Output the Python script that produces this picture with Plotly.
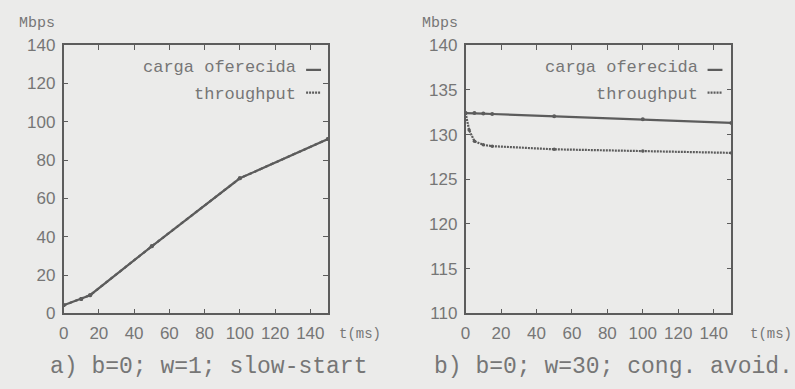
import plotly.graph_objects as go

# ---- data ----
t_a = [0, 10, 15, 50, 100, 150]
carga_a = [4.2, 7.5, 9.5, 35.0, 70.5, 91.0]
thr_a = [4.2, 7.5, 9.5, 35.0, 70.5, 91.0]

t_b = [0, 5, 10, 15, 50, 100, 150]
carga_b = [132.4, 132.4, 132.35, 132.3, 132.05, 131.7, 131.3]
t_b_thr = [0, 2, 5, 10, 15, 50, 100, 150]
thr_b = [132.4, 130.5, 129.25, 128.85, 128.7, 128.35, 128.15, 127.95]

xticks = [0, 20, 40, 60, 80, 100, 120, 140]
yticks_a = [0, 20, 40, 60, 80, 100, 120, 140]
yticks_b = [110, 115, 120, 125, 130, 135, 140]

legend_labels = ["carga oferecida", "throughput"]
captions = ["a) b=0; w=1; slow-start", "b) b=0; w=30; cong. avoid."]

# ---- style ----
W, H = 795, 389
BG = "#ebebea"
LINE = "#5c5c5c"
TXT = "#767676"
MONO = "Liberation Mono, Courier New, monospace"
SANS = "Liberation Sans, Arial, sans-serif"

def px(x):
    return x / W

def py(y):
    return (H - y) / H

fig = go.Figure()

fig.add_trace(go.Scatter(x=t_a, y=carga_a, mode="lines+markers", xaxis="x", yaxis="y",
                         line=dict(color=LINE, width=2.2), marker=dict(size=4, color=LINE),
                         showlegend=False, name=legend_labels[0]))
fig.add_trace(go.Scatter(x=t_a, y=thr_a, mode="lines+markers", xaxis="x", yaxis="y",
                         line=dict(color=LINE, width=2.2, dash="dot"), marker=dict(size=4, color=LINE),
                         showlegend=False, name=legend_labels[1]))
fig.add_trace(go.Scatter(x=t_b, y=carga_b, mode="lines+markers", xaxis="x2", yaxis="y2",
                         line=dict(color=LINE, width=2.2), marker=dict(size=4, color=LINE),
                         showlegend=False, name=legend_labels[0]))
fig.add_trace(go.Scatter(x=t_b_thr, y=thr_b, mode="lines+markers", xaxis="x2", yaxis="y2",
                         line=dict(color=LINE, width=2.2, dash="2px,1px"), marker=dict(size=3.5, color=LINE),
                         showlegend=False, name=legend_labels[1]))

ydom = [py(320), py(38)]
axis_common = dict(showline=True, linecolor=LINE, linewidth=1.6, mirror="allticks",
                   ticks="inside", ticklen=5, tickwidth=1.2, tickcolor=LINE,
                   showgrid=False, zeroline=False,
                   tickfont=dict(family=SANS, size=17, color=TXT))

fig.update_layout(
    width=W, height=H, autosize=False,
    margin=dict(l=0, r=0, t=0, b=0),
    paper_bgcolor=BG, plot_bgcolor=BG,
    xaxis=dict(domain=[px(59), px(325)], range=[0, 150], tickvals=xticks,
               anchor="y", ticklabelstandoff=3, **axis_common),
    yaxis=dict(domain=ydom, range=[0, 140], tickvals=yticks_a,
               anchor="x", ticklabelstandoff=3, **axis_common),
    xaxis2=dict(domain=[px(463.5), px(731)], range=[0, 150], tickvals=xticks,
                anchor="y2", ticklabelstandoff=3, **axis_common),
    yaxis2=dict(domain=ydom, range=[110, 140], tickvals=yticks_b,
                anchor="x2", ticklabelstandoff=3, **axis_common),
)

ann = []
shapes = []
for (text_x, samp_x0, samp_x1, ylab_x, tlab_x, cap_x, cap) in [
        (295, 303, 318, 12, 334, 205, captions[0]),
        (699, 707, 722, 418, 748, 612, captions[1])]:
    ann.append(dict(x=px(text_x), y=py(61), xref="paper", yref="paper", xanchor="right",
                    yanchor="middle", text=legend_labels[0], showarrow=False,
                    font=dict(family=MONO, size=17, color=TXT)))
    ann.append(dict(x=px(text_x), y=py(90), xref="paper", yref="paper", xanchor="right",
                    yanchor="middle", text=legend_labels[1], showarrow=False,
                    font=dict(family=MONO, size=17, color=TXT)))
    shapes.append(dict(type="line", xref="paper", yref="paper", x0=px(samp_x0), x1=px(samp_x1),
                       y0=py(64), y1=py(64), line=dict(color=LINE, width=2.2)))
    shapes.append(dict(type="line", xref="paper", yref="paper", x0=px(samp_x0), x1=px(samp_x1),
                       y0=py(88), y1=py(88), line=dict(color=LINE, width=2.2, dash="2px,1px")))
    ann.append(dict(x=px(ylab_x), y=py(15), xref="paper", yref="paper", xanchor="left",
                    yanchor="middle", text="Mbps", showarrow=False,
                    font=dict(family=MONO, size=15, color=TXT)))
    ann.append(dict(x=px(tlab_x), y=py(342), xref="paper", yref="paper", xanchor="left",
                    yanchor="middle", text="t(ms)", showarrow=False,
                    font=dict(family=MONO, size=14, color=TXT)))
    ann.append(dict(x=px(cap_x), y=py(376), xref="paper", yref="paper", xanchor="center",
                    yanchor="middle", text=cap, showarrow=False,
                    font=dict(family=MONO, size=23, color=TXT)))

fig.update_layout(annotations=ann, shapes=shapes)

fig.write_html("out.html")
